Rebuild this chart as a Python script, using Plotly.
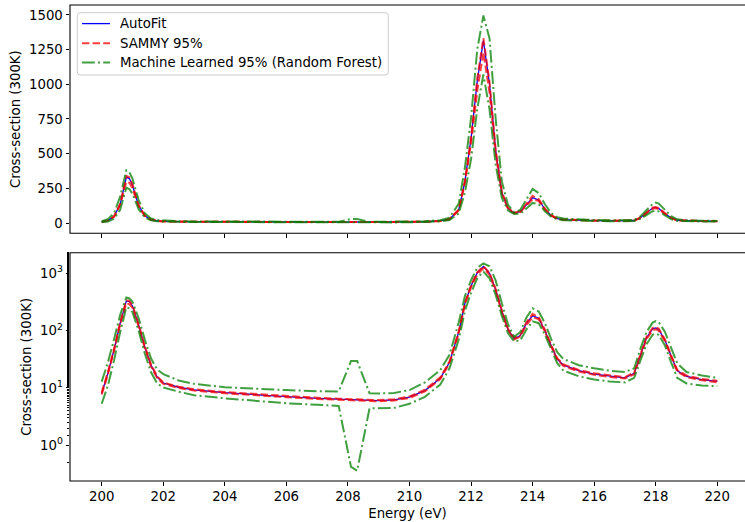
import plotly.graph_objects as go
from plotly.subplots import make_subplots

# Energy grid (eV)
energy = [200.0, 200.2, 200.4, 200.6, 200.8, 200.9,
          201.0, 201.2, 201.4, 201.6, 201.8,
          202.0, 202.5, 203.0, 204.0, 205.0, 206.0, 207.0, 207.7,
          208.1, 208.3, 208.7,
          209.0, 209.5, 210.0, 210.5,
          211.0, 211.3, 211.6, 211.8,
          212.0, 212.2, 212.4, 212.6, 212.8,
          213.0, 213.2, 213.4, 213.6, 213.8,
          214.0, 214.2, 214.4, 214.6, 214.8,
          215.0, 215.5, 216.0, 216.5,
          217.0, 217.3, 217.5, 217.7, 217.9,
          218.0, 218.1, 218.3, 218.5, 218.7,
          219.0, 219.5, 220.0]

autofit = [8.0, 18, 46, 135, 330, 320,
           270, 125, 52, 25, 15.5,
           12.2, 10.3, 9.3, 8.3, 7.6, 7.05, 6.6, 6.35,
           6.2, 6.15, 6.05,
           6.0, 6.2, 6.9, 9.0,
           14.8, 28, 95, 300,
           610, 1020, 1315, 1000, 520,
           220, 105, 72, 82, 135,
           182, 165, 100, 55, 32,
           25, 20, 17.5, 16,
           15, 18, 38, 75, 108,
           112, 104, 68, 36, 20,
           16, 14, 13]

sammy_hi = [8.4, 19, 48, 140, 340, 330,
            280, 130, 54, 26, 16,
            12.5, 10.5, 9.5, 8.5, 7.8, 7.2, 6.75, 6.5,
            6.35, 6.3, 6.2,
            6.15, 6.35, 7.1, 9.3,
            15.3, 29, 98, 305,
            620, 1040, 1332, 1015, 532,
            226, 108, 74, 85, 140,
            196, 172, 104, 57, 33,
            25.8, 20.6, 18, 16.5,
            15.5, 18.6, 39, 78, 112,
            116, 108, 70, 37, 20.6,
            16.5, 14.4, 13.4]

sammy_lo = [7.7, 17, 44, 128, 298, 290,
            250, 118, 50, 24, 15,
            11.8, 10.0, 9.0, 8.1, 7.4, 6.9, 6.45, 6.2,
            6.05, 6.0, 5.9,
            5.85, 6.05, 6.7, 8.7,
            14.3, 27, 90, 285,
            575, 950, 1228, 940, 495,
            212, 102, 70, 79, 126,
            172, 158, 96, 53, 31,
            24.3, 19.4, 17, 15.5,
            14.6, 17.4, 36, 71, 102,
            106, 99, 65, 35, 19.4,
            15.5, 13.6, 12.6]

ml_hi = [12.9, 28, 70, 190, 380, 365,
         320, 165, 70, 33, 21,
         17.5, 13.5, 11.8, 10.3, 9.6, 9.2, 8.8, 8.7,
         29.5, 29.5, 8.1,
         8.0, 8.2, 9.2, 12.5,
         20.5, 38, 140, 400,
         760, 1250, 1495, 1330, 750,
         300, 130, 78, 95, 170,
         245, 215, 135, 72, 42,
         32, 25, 22, 20,
         19, 22, 48, 95, 138,
         147, 140, 95, 50, 27,
         19, 16.5, 15]

ml_lo = [5.3, 11, 30, 95, 255, 245,
         210, 100, 40, 19, 12,
         10.2, 8.6, 7.5, 6.6, 5.9, 5.4, 5.1, 4.85,
         0.42, 0.36, 4.4,
         4.4, 4.5, 5.3, 7.0,
         11.5, 22, 70, 220,
         460, 820, 1070, 820, 420,
         180, 90, 65, 68, 105,
         145, 135, 85, 46, 27,
         20, 16, 14, 13,
         12.5, 15, 30, 58, 85,
         89, 84, 55, 28, 15,
         12, 11, 10.8]

x_ticks = [200, 202, 204, 206, 208, 210, 212, 214, 216, 218, 220]
lin_ticks = [0, 250, 500, 750, 1000, 1250, 1500]
log_ticks = [1, 10, 100, 1000]
log_labels = ["10<sup>0</sup>", "10<sup>1</sup>", "10<sup>2</sup>", "10<sup>3</sup>"]
legend_labels = ["AutoFit", "SAMMY 95%", "Machine Learned 95% (Random Forest)"]

FONT = "DejaVu Sans"
FS = 13.3
BLUE = "rgb(0,0,255)"
RED = "rgba(255,0,0,0.75)"
GREEN = "rgba(0,128,0,0.75)"
DASH = "7.4px,3.2px"
DASHDOT = "12.8px,3.2px,2px,3.2px"

fig = make_subplots(rows=2, cols=1, shared_xaxes=True, vertical_spacing=0.04)

styles = [dict(color=BLUE, width=1.3),
          dict(color=RED, width=2, dash=DASH),
          dict(color=GREEN, width=2, dash=DASHDOT)]

for row in (1, 2):
    fig.add_trace(go.Scatter(x=energy, y=autofit, mode="lines", name=legend_labels[0],
                             line=styles[0], showlegend=False), row=row, col=1)
    for ys in (sammy_hi, sammy_lo):
        fig.add_trace(go.Scatter(x=energy, y=ys, mode="lines", name=legend_labels[1],
                                 line=styles[1], showlegend=False), row=row, col=1)
    for ys in (ml_hi, ml_lo):
        fig.add_trace(go.Scatter(x=energy, y=ys, mode="lines", name=legend_labels[2],
                                 line=styles[2], showlegend=False), row=row, col=1)

# figure geometry (pixels) used to place the frames and the key
W, H = 745, 522
ML, MR, MT, MB = 70, 0, 5, 41
PW, PH = W - ML - MR, H - MT - MB


def px_x(px):
    return (px - ML) / PW


def px_y(py):
    return 1 - (py - MT) / PH


top_dom = [0.5204, 1.0]
bot_dom = [0.0, 0.4796]

tick_common = dict(ticks="outside", ticklen=3.5, tickwidth=1, tickcolor="black",
                   showgrid=False, zeroline=False, showline=False,
                   tickfont=dict(family=FONT, size=FS, color="black"))

fig.update_xaxes(range=[198.97, 220.90], tickvals=x_ticks, **tick_common)
fig.update_xaxes(showticklabels=False, row=1, col=1)
fig.update_xaxes(title=dict(text="Energy (eV)", standoff=5,
                            font=dict(family=FONT, size=FS, color="black")),
                 ticktext=[str(t) for t in x_ticks], row=2, col=1)

fig.update_yaxes(domain=top_dom, range=[-74, 1571], tickvals=lin_ticks,
                 ticktext=[str(t) for t in lin_ticks],
                 title=dict(text="Cross-section (300K)", standoff=5,
                            font=dict(family=FONT, size=FS, color="black")),
                 row=1, col=1, **tick_common)
fig.update_yaxes(type="log", domain=bot_dom, range=[-0.623, 3.36],
                 tickvals=log_ticks, ticktext=log_labels,
                 minor=dict(ticks="outside", ticklen=2, tickwidth=0.8,
                            tickcolor="black", showgrid=False),
                 title=dict(text="Cross-section (300K)", standoff=5,
                            font=dict(family=FONT, size=FS, color="black")),
                 row=2, col=1, **tick_common)

# axes frames (the right edge runs past the page)
for dom in (top_dom, bot_dom):
    fig.add_shape(type="rect", xref="paper", yref="paper",
                  x0=0, x1=1.05, y0=dom[0], y1=dom[1],
                  line=dict(color="black", width=1.1), layer="above")

# key box in the upper-left corner of the top panel
bx0, bx1, by0, by1 = 77.3, 388.3, 12.7, 75.0
r = 3.0
path = (f"M {px_x(bx0 + r)},{px_y(by0)} L {px_x(bx1 - r)},{px_y(by0)} "
        f"Q {px_x(bx1)},{px_y(by0)} {px_x(bx1)},{px_y(by0 + r)} "
        f"L {px_x(bx1)},{px_y(by1 - r)} "
        f"Q {px_x(bx1)},{px_y(by1)} {px_x(bx1 - r)},{px_y(by1)} "
        f"L {px_x(bx0 + r)},{px_y(by1)} "
        f"Q {px_x(bx0)},{px_y(by1)} {px_x(bx0)},{px_y(by1 - r)} "
        f"L {px_x(bx0)},{px_y(by0 + r)} "
        f"Q {px_x(bx0)},{px_y(by0)} {px_x(bx0 + r)},{px_y(by0)} Z")
fig.add_shape(type="path", path=path, xref="paper", yref="paper",
              fillcolor="rgba(255,255,255,0.8)", line=dict(color="#cccccc", width=1),
              layer="above")

entry_y = [23.6, 43.3, 62.6]
for label, style, ey in zip(legend_labels, styles, entry_y):
    fig.add_shape(type="line", xref="paper", yref="paper",
                  x0=px_x(82), x1=px_x(110), y0=px_y(ey), y1=px_y(ey),
                  line=style, layer="above")
    fig.add_annotation(text=label, xref="paper", yref="paper",
                       x=px_x(118), y=px_y(ey), xanchor="left", yanchor="middle",
                       showarrow=False, font=dict(family=FONT, size=FS, color="black"))

fig.update_layout(
    width=W, height=H,
    margin=dict(l=ML, r=MR, t=MT, b=MB, autoexpand=False),
    plot_bgcolor="white", paper_bgcolor="white",
    font=dict(family=FONT, size=FS, color="black"),
    showlegend=False,
)

fig.write_html("out.html")
